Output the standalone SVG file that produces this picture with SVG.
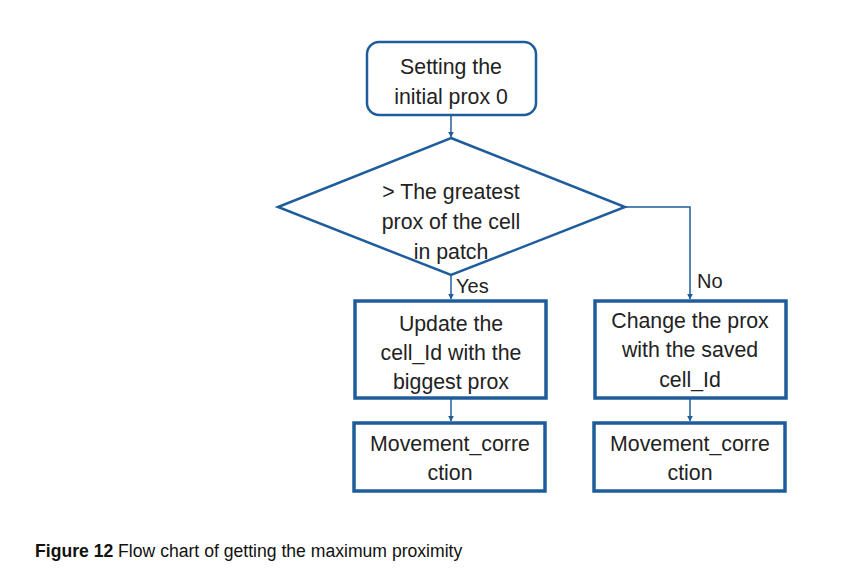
<svg xmlns="http://www.w3.org/2000/svg" width="843" height="576" viewBox="0 0 843 576">
<defs>
<style>
.t{font-family:"Liberation Sans",Arial,sans-serif;font-size:21.3px;fill:#222;text-anchor:middle}
.n{fill:#fff;stroke:#1f5c9c}
.c{fill:none;stroke:#1f5c9c;stroke-width:1.5}
.l{font-family:"Liberation Sans",Arial,sans-serif;font-size:20px;fill:#222}
</style>
<marker id="a" viewBox="0 0 10 10" refX="9" refY="5" markerWidth="4" markerHeight="4" orient="auto"><path d="M0,0L10,5L0,10z" fill="#1f5c9c"/></marker>
</defs>
<rect width="843" height="576" fill="#fff"/>
<g id="connectors">
<line class="c" x1="451" y1="115" x2="451" y2="137" marker-end="url(#a)"/>
<line class="c" x1="451" y1="275" x2="451" y2="299" marker-end="url(#a)"/>
<polyline class="c" points="625,207 690,207 690,299" marker-end="url(#a)"/>
<line class="c" x1="451" y1="398" x2="451" y2="421" marker-end="url(#a)"/>
<line class="c" x1="690" y1="398" x2="690" y2="421" marker-end="url(#a)"/>
</g>
<g id="start">
<rect class="n" x="367" y="42" width="169" height="73" rx="12" stroke-width="2.5"/>
<text class="t" x="451" y="74">Setting the</text>
<text class="t" x="451" y="104">initial prox 0</text>
</g>
<g id="decision">
<polygon class="n" points="451,138 625,207 451,275 278,207" stroke-width="2.5"/>
<text class="t" x="451" y="199">&gt; The greatest</text>
<text class="t" x="451" y="229">prox of the cell</text>
<text class="t" x="451" y="259">in patch</text>
</g>
<text class="l" x="456" y="293">Yes</text>
<text class="l" x="697" y="288">No</text>
<g id="update">
<rect class="n" x="355" y="301" width="191" height="97" stroke-width="3.5"/>
<text class="t" x="451" y="331">Update the</text>
<text class="t" x="451" y="360">cell_Id with the</text>
<text class="t" x="451" y="389">biggest prox</text>
</g>
<g id="change">
<rect class="n" x="595" y="301" width="191" height="97" stroke-width="3.5"/>
<text class="t" x="690" y="328">Change the prox</text>
<text class="t" x="690" y="357">with the saved</text>
<text class="t" x="690" y="387">cell_Id</text>
</g>
<g id="move1">
<rect class="n" x="354" y="423" width="191" height="68" stroke-width="3.5"/>
<text class="t" x="450" y="451">Movement_corre</text>
<text class="t" x="450" y="480">ction</text>
</g>
<g id="move2">
<rect class="n" x="594" y="423" width="191" height="68" stroke-width="3.5"/>
<text class="t" x="690" y="451">Movement_corre</text>
<text class="t" x="690" y="480">ction</text>
</g>
<text x="35" y="557" font-family="'Liberation Sans',Arial,sans-serif" font-size="17.6" fill="#111"><tspan font-weight="bold">Figure 12</tspan> Flow chart of getting the maximum proximity</text>
</svg>
